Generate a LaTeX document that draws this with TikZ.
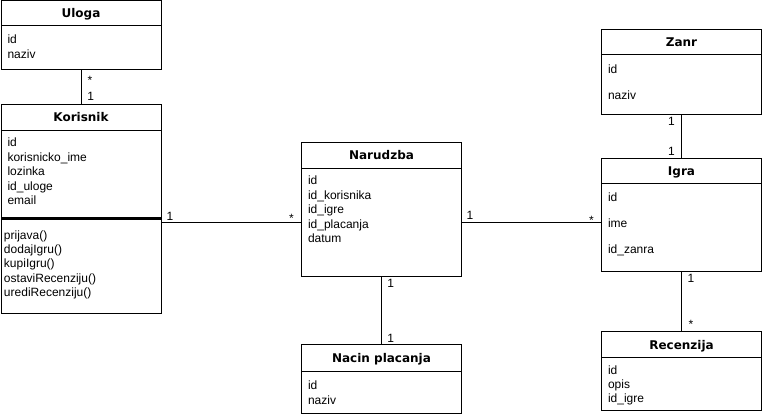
\documentclass[tikz,border=0pt]{standalone}
\usepackage{fontspec}
\setmainfont{Liberation Sans}
\newfontfamily\headfont{DejaVu Sans}
\usetikzlibrary{positioning}

\begin{document}
\begin{tikzpicture}[x=1pt, y=-1pt, line width=1pt,
    clshead/.style={draw, anchor=north west, minimum width=160pt, inner sep=0pt, outer sep=0pt,
        font=\headfont\bfseries\fontsize{12}{14}\selectfont, text height=9pt, text depth=0pt},
    clsbody/.style={draw, minimum width=160pt, inner sep=0pt, outer sep=0pt},
    attr/.style={anchor=base west, inner sep=0pt, font=\fontsize{12}{14}\selectfont},
    mult/.style={anchor=base, inner sep=0pt, font=\fontsize{12}{14}\selectfont}]

    \fill[white] (0,0) rectangle (763,419);
    \useasboundingbox (0,0) rectangle (763,419);

    % Uloga
    \node[clshead, minimum height=25] (uloga) at (1,0.5) {Uloga};
    \node[clsbody, minimum height=44, below=0pt of uloga] (uloga-b) {};
    \foreach \t [count=\i from 0] in {id, naziv}
        \node[attr] (uloga-a\i) at (7, {44+14.5*\i}) {\t};

    % Korisnik
    \node[clshead, minimum height=26] (korisnik) at (1,104.5) {Korisnik};
    \node[clsbody, minimum height=88, below=0pt of korisnik] (korisnik-b) {};
    \node[clsbody, minimum height=95, below=0pt of korisnik-b] (korisnik-m) {};
    \draw[line width=3pt] (korisnik-b.south west) -- (korisnik-b.south east);
    \foreach \t [count=\i from 0] in {id, korisnicko\_ime, lozinka, id\_uloge, email}
        \node[attr] (korisnik-a\i) at (7, {146.7+14.5*\i}) {\t};
    \foreach \t [count=\i from 0] in {prijava(), dodajIgru(), kupiIgru(), ostaviRecenziju(), urediRecenziju()}
        \node[attr] (korisnik-f\i) at (3.5, {239.5+14.25*\i}) {\t};

    % Narudzba
    \node[clshead, minimum height=26] (narudzba) at (301.5,142.5) {Narudzba};
    \node[clsbody, minimum height=108, below=0pt of narudzba] (narudzba-b) {};
    \foreach \t [count=\i from 0] in {id, id\_korisnika, id\_igre, id\_placanja, datum}
        \node[attr] (narudzba-a\i) at (307.5, {185+14.5*\i}) {\t};

    % Nacin placanja
    \node[clshead, minimum height=26.5] (nacin) at (301.5,345) {Nacin placanja};
    \node[clsbody, minimum height=42, below=0pt of nacin] (nacin-b) {};
    \foreach \t [count=\i from 0] in {id, naziv}
        \node[attr] (nacin-a\i) at (307.5, {390+14.5*\i}) {\t};

    % Zanr
    \node[clshead, minimum height=25] (zanr) at (601.5,30) {Zanr};
    \node[clsbody, minimum height=59.5, below=0pt of zanr] (zanr-b) {};
    \foreach \t [count=\i from 0] in {id, naziv}
        \node[attr] (zanr-a\i) at (607.5, {73.3+26.7*\i}) {\t};

    % Igra
    \node[clshead, minimum height=25] (igra) at (601.5,159) {Igra};
    \node[clsbody, minimum height=88, below=0pt of igra] (igra-b) {};
    \foreach \t [count=\i from 0] in {id, ime, id\_zanra}
        \node[attr] (igra-a\i) at (607.5, {201.5+26*\i}) {\t};

    % Recenzija
    \node[clshead, minimum height=26.5] (recenzija) at (601.5,331.5) {Recenzija};
    \node[clsbody, minimum height=53, below=0pt of recenzija] (recenzija-b) {};
    \foreach \t [count=\i from 0] in {id, opis, id\_igre}
        \node[attr] (recenzija-a\i) at (607.5, {374.3+14*\i}) {\t};

    % veze
    \draw (uloga-b.south) -- (korisnik.north);
    \draw (narudzba-b.west) -- (narudzba-b.west -| korisnik-m.east);
    \draw (narudzba-b.east) -- (narudzba-b.east -| igra-b.west);
    \draw (narudzba-b.south) -- (nacin.north);
    \draw (zanr-b.south) -- (igra.north);
    \draw (igra-b.south) -- (recenzija.north);

    \node[mult] (m1) at (90,84.7) {*};
    \node[mult] (m2) at (90.7,101) {1};
    \node[mult] (m3) at (170,220.8) {1};
    \node[mult] (m4) at (291.5,223) {*};
    \node[mult] (m5) at (470,219.3) {1};
    \node[mult] (m6) at (591.5,224.3) {*};
    \node[mult] (m7) at (390.7,287.6) {1};
    \node[mult] (m8) at (390.7,342.6) {1};
    \node[mult] (m9) at (671.5,126) {1};
    \node[mult] (m10) at (671.5,156) {1};
    \node[mult] (m11) at (691,282.6) {1};
    \node[mult] (m12) at (691,328.7) {*};

\end{tikzpicture}
\end{document}
